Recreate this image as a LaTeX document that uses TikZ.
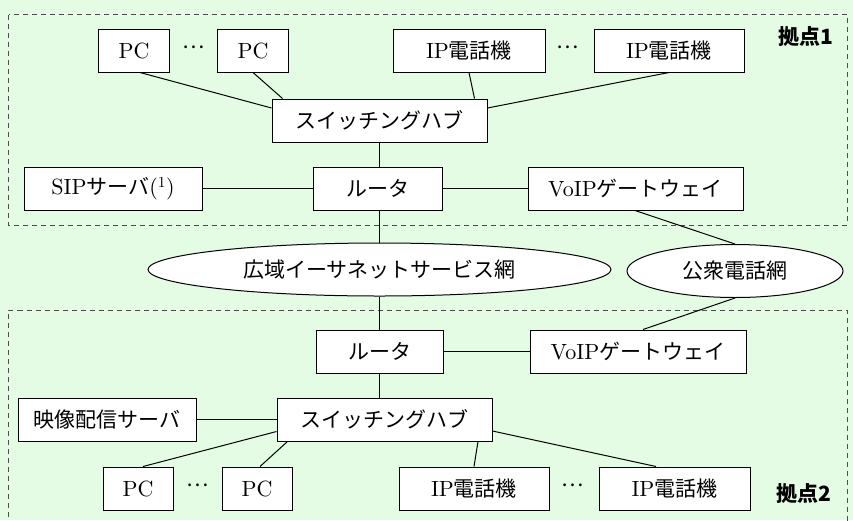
\documentclass[tikz,border=0pt]{standalone}
\usepackage{fontspec}
\setmainfont{lmroman10-regular}[Extension=.otf]
\newfontfamily\jp{Noto Sans CJK JP}
\newcommand\jtext[1]{{\jp\fontsize{21}{25}\selectfont #1}}
\usetikzlibrary{shapes.geometric}
\definecolor{bg}{RGB}{228,252,228}
\begin{document}
\begin{tikzpicture}[x=1pt,y=-1pt,
  box/.style={draw, fill=white, line width=1pt, minimum height=43pt, inner sep=0pt, font=\fontsize{22}{26}\selectfont},
  cloud/.style={ellipse, draw, fill=white, line width=1pt, minimum height=53pt, inner sep=0pt, font=\fontsize{22}{26}\selectfont},
  link/.style={line width=1pt},
  area/.style={draw=black!70, dash pattern=on 5pt off 4pt, line width=1pt},
  dots/.style={inner sep=0pt, font=\jp\fontsize{21}{25}\selectfont},
  sitelabel/.style={inner sep=0pt, font=\jp\bfseries\fontsize{21}{25}\selectfont}]
\fill[bg] (0,0) rectangle (853,520);
\useasboundingbox (0,0) rectangle (853,520);
\clip (0,0) rectangle (853,520);
\draw[area] (8.5,14.5) rectangle (847,225);
\draw[area] (8.5,535) -- (8.5,310) -- (847,310) -- (847,535);

\node[box, minimum width=71pt] (pc1) at (134,50.5) {PC};
\node[box, minimum width=71pt] (pc2) at (253,50.5) {PC};
\node[box, minimum width=152pt] (ip1) at (469,50.5) {IP\jtext{電話機}};
\node[box, minimum width=150pt] (ip2) at (669,50.5) {IP\jtext{電話機}};
\node[box, minimum width=215pt] (hub1) at (379.5,120.5) {\jtext{スイッチングハブ}};
\node[box, minimum width=178pt] (sip) at (113,188.5) {SIP\jtext{サーバ}(\textsuperscript{1})};
\node[box, minimum width=129pt] (r1) at (377.5,188.5) {\jtext{ルータ}};
\node[box, minimum width=215pt] (gw1) at (635.5,188.5) {VoIP\jtext{ゲートウェイ}};
\node[cloud, minimum width=463pt] (wan) at (379.5,269.5) {\jtext{広域イーサネットサービス網}};
\node[cloud, minimum width=216pt] (pstn) at (735,271) {\jtext{公衆電話網}};
\node[box, minimum width=127pt] (r2) at (379.5,351.5) {\jtext{ルータ}};
\node[box, minimum width=216pt] (gw2) at (638,351.5) {VoIP\jtext{ゲートウェイ}};
\node[box, minimum width=215pt] (hub2) at (384.5,419.5) {\jtext{スイッチングハブ}};
\node[box, minimum width=178pt] (video) at (107,419.5) {\jtext{映像配信サーバ}};
\node[box, minimum width=70pt] (pc3) at (138,488.5) {PC};
\node[box, minimum width=70pt] (pc4) at (257,488.5) {PC};
\node[box, minimum width=150pt] (ip3) at (474,488.5) {IP\jtext{電話機}};
\node[box, minimum width=151pt] (ip4) at (674.5,488.5) {IP\jtext{電話機}};
\node[dots] (d1) at (194,47.3) {…};
\node[dots] (d2) at (568,47.3) {…};
\node[dots] (d3) at (198,485) {…};
\node[dots] (d4) at (573,485) {…};
\node[sitelabel] (s1) at (806,36.5) {拠点1};
\node[sitelabel] (s2) at (804,494) {拠点2};

\draw[link] ([xshift=6pt]pc1.south) -- ([yshift=12.5pt]hub1.west);
\draw[link] (pc2.south) -- ([xshift=11pt]hub1.north west);
\draw[link] (ip1.south) -- ([xshift=-13pt]hub1.north east);
\draw[link] (ip2.south) -- ([yshift=12.5pt]hub1.east);
\draw[link] (hub1.south) -- (hub1.south |- r1.north);
\draw[link] (r1.west) -- (sip.east);
\draw[link] (r1.east) -- (gw1.west);
\draw[link] (r1.south -| wan.north) -- (wan.north);
\draw[link] ([xshift=-0.5pt]gw1.south) -- (pstn.north);
\draw[link] (pstn.south) -- ([xshift=5pt]gw2.north);
\draw[link] (wan.south) -- (r2.north);
\draw[link] (r2.east) -- (gw2.west);
\draw[link] (r2.south) -- (r2.south |- hub2.north);
\draw[link] (hub2.west) -- (video.east);
\draw[link] ([xshift=5pt]pc3.north) -- ([yshift=-12pt]hub2.west);
\draw[link] ([xshift=3pt]pc4.north) -- ([xshift=11pt]hub2.south west);
\draw[link] (ip3.north) -- ([xshift=-14.5pt]hub2.south east);
\draw[link] ([xshift=-18.5pt]ip4.north) -- ([yshift=-11.5pt]hub2.east);
\end{tikzpicture}
\end{document}
